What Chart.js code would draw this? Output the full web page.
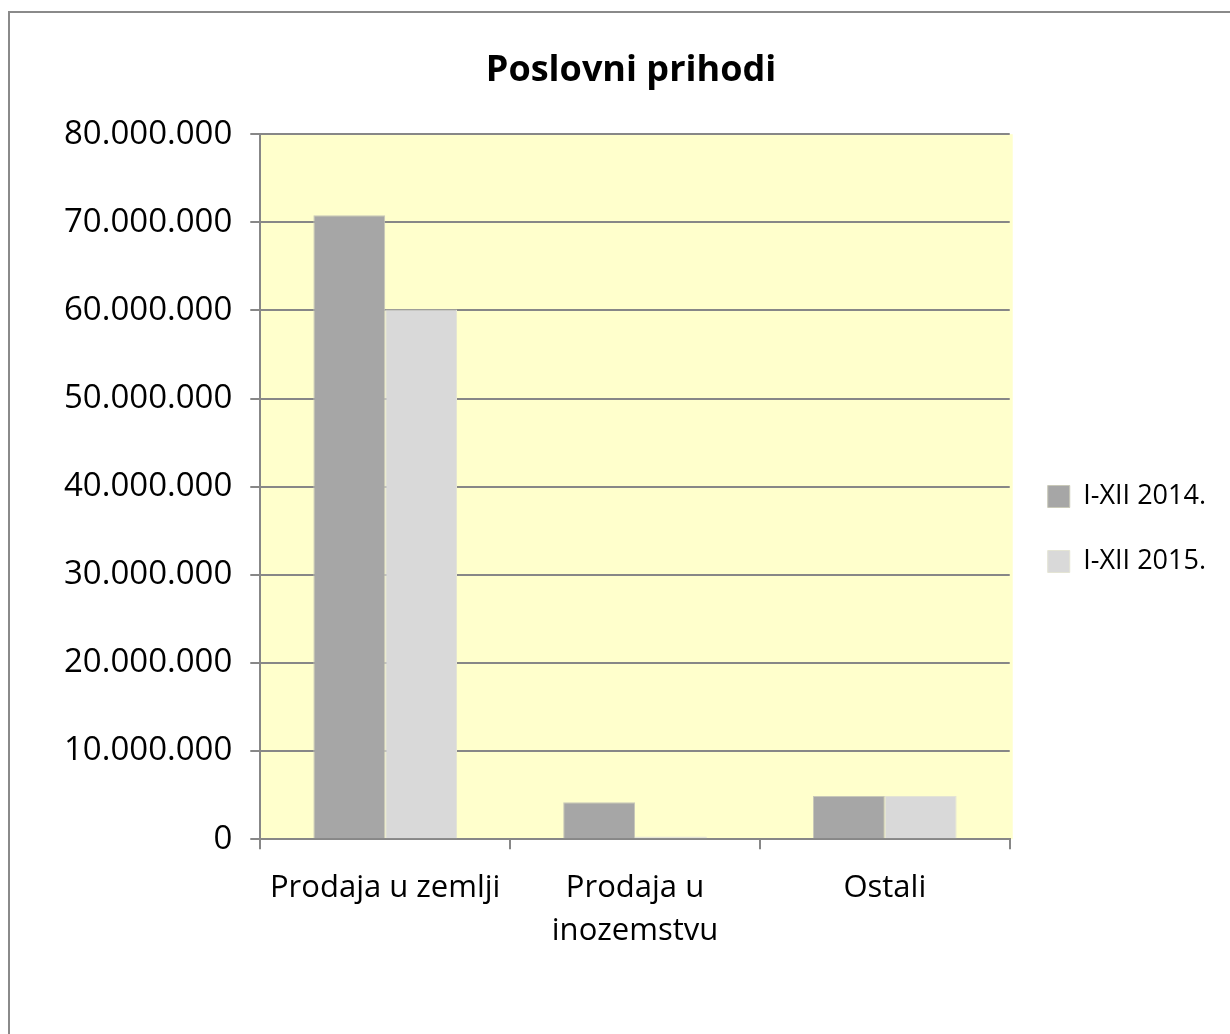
<!DOCTYPE html>
<html>
<head>
<meta charset="utf-8">
<script src="https://cdn.jsdelivr.net/npm/chart.js@4.4.1/dist/chart.umd.min.js"></script>
<style>
  html, body { margin: 0; padding: 0; background: #fff; overflow: hidden; }
  #frame { position: absolute; left: 8px; top: 11px; width: 1240px; height: 1040px; border: 2px solid #8a8a8a; }
  #wrap { position: absolute; left: 0; top: 0; width: 1230px; height: 1034px; }
</style>
</head>
<body>
<div id="frame"></div>
<div id="wrap"><canvas id="chart"></canvas></div>
<script>
// Categories and series
const categories = [['Prodaja u zemlji'], ['Prodaja u', 'inozemstvu'], ['Ostali']];
const seriesNames = ['I-XII 2014.', 'I-XII 2015.'];
const values2014 = [70800000, 4200000, 4900000];
const values2015 = [60100000, 300000, 4900000];
const yTicks = [0, 10000000, 20000000, 30000000, 40000000, 50000000, 60000000, 70000000, 80000000];

// Format 70000000 -> 70.000.000
function fmt(v) { return String(v).replace(/\B(?=(\d{3})+(?!\d))/g, '.'); }

// Yellow plot-area background
const plotBg = {
  id: 'plotBg',
  beforeDraw(chart) {
    const { ctx, chartArea: a } = chart;
    ctx.save();
    ctx.fillStyle = '#ffffcc';
    ctx.fillRect(a.left, a.top, a.right - a.left + 3, a.bottom - a.top);
    ctx.restore();
  }
};

const FONT = "'Open Sans', 'Noto Sans', sans-serif";

new Chart(document.getElementById('chart'), {
  type: 'bar',
  data: {
    labels: categories,
    datasets: [
      { label: seriesNames[0], data: values2014, backgroundColor: '#a6a6a6', borderColor: '#c8c8b8', borderWidth: 1 },
      { label: seriesNames[1], data: values2015, backgroundColor: '#d9d9d9', borderColor: '#e4e4d4', borderWidth: 1 }
    ]
  },
  options: {
    responsive: true,
    maintainAspectRatio: false,
    animation: false,
    layout: { padding: { left: 46, right: 14, top: 30, bottom: 64 } },
    datasets: { bar: { categoryPercentage: 0.575, barPercentage: 1 } },
    plugins: {
      title: {
        display: true,
        text: 'Poslovni prihodi',
        color: '#000',
        font: { family: FONT, size: 36, weight: 'bold' },
        padding: { top: 19, bottom: 42 }
      },
      legend: {
        position: 'right',
        // empty title only pushes the entries down a bit
        title: { display: true, text: ' ', font: { size: 10 }, padding: 23 },
        labels: {
          color: '#000',
          font: { family: FONT, size: 27 },
          boxWidth: 22,
          boxHeight: 22,
          padding: 38
        }
      },
      tooltip: { enabled: false }
    },
    scales: {
      x: {
        offset: true,
        grid: { offset: true, drawOnChartArea: false, drawTicks: true, tickLength: 10, color: '#878787', lineWidth: 2 },
        border: { color: '#878787', width: 2 },
        ticks: { color: '#000', font: { family: FONT, size: 31, lineHeight: 1.4 }, padding: 17, maxRotation: 0 }
      },
      y: {
        min: 0,
        max: 80000000,
        afterBuildTicks(axis) { axis.ticks = yTicks.map(v => ({ value: v })); },
        grid: { color: '#878787', lineWidth: 2, tickLength: 10 },
        border: { color: '#878787', width: 2 },
        ticks: { color: '#000', font: { family: FONT, size: 33 }, padding: 18, callback: v => fmt(v) }
      }
    }
  },
  plugins: [plotBg]
});
</script>
</body>
</html>
